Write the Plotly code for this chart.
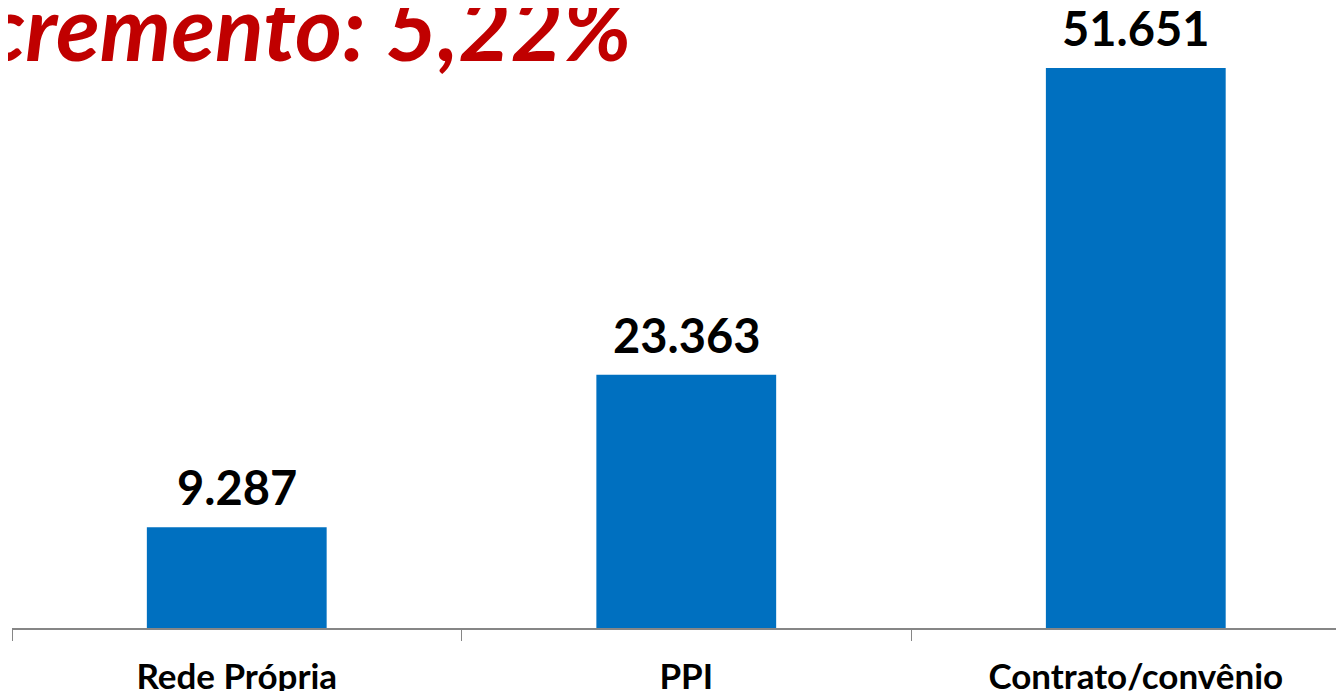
import plotly.graph_objects as go

# dados
categorias = ["Rede Própria", "PPI", "Contrato/convênio"]
valores = [9287, 23363, 51651]
titulo = "Incremento: 5,22%"

fig = go.Figure()

fig.add_trace(go.Bar(
    x=categorias,
    y=valores,
    width=0.4,
    marker=dict(color="#0070C0", line=dict(width=0)),
    hoverinfo="skip",
))

# rótulos de valor acima das barras
for c, v in zip(categorias, valores):
    fig.add_annotation(
        x=c, y=v, xref="x", yref="y",
        text=f"{v:,}".replace(",", "."),
        showarrow=False, yanchor="bottom", yshift=10,
        font=dict(family="Lato", size=47, color="black", weight="bold"),
    )

# título vermelho (cortado à esquerda na imagem original)
fig.add_annotation(
    x=(626 - 4) / 1340, y=1 - 17.8 / 620, xref="paper", yref="paper",
    text=f"<b><i>{titulo}</i></b>",
    showarrow=False, xanchor="right", yanchor="middle",
    font=dict(family="Lato", size=90, color="#C00000"),
)

fig.update_layout(
    width=1344, height=691,
    margin=dict(l=4, r=0, t=0, b=71, autoexpand=False),
    plot_bgcolor="white", paper_bgcolor="white",
    showlegend=False,
)
fig.update_xaxes(
    range=[-0.5, 2.481],
    showline=True, linecolor="#868686", linewidth=2,
    ticks="outside", tickson="boundaries", ticklen=11, tickwidth=1,
    tickcolor="#868686", ticklabelstandoff=17,
    tickfont=dict(family="Lato", size=35, color="black", weight="bold"),
    automargin=False,
)
fig.update_yaxes(
    range=[0, 57186], visible=False, showgrid=False, automargin=False,
)

fig.write_html("out.html")
